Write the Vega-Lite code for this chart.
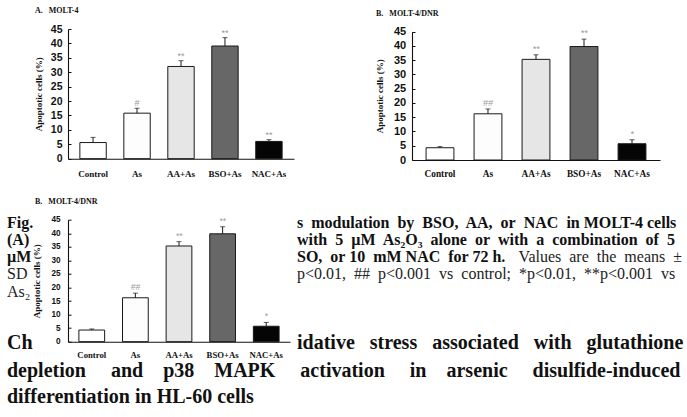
{
  "$schema": "https://vega.github.io/schema/vega-lite/v6.json",
  "autosize": {"type": "pad"},
  "padding": 0,
  "background": "white",
  "bounds": "flush",
  "columns": 2,
  "spacing": {"row": 59.7, "column": 118},
  "datasets": {
    "molt4": [
      {"treatment": "Control", "mean": 5.6, "mean_plus_sd": 7.4, "sig": ""},
      {"treatment": "As", "mean": 15.8, "mean_plus_sd": 17.5, "sig": "#"},
      {"treatment": "AA+As", "mean": 32.0, "mean_plus_sd": 34.0, "sig": "**"},
      {"treatment": "BSO+As", "mean": 39.1, "mean_plus_sd": 42.0, "sig": "**"},
      {"treatment": "NAC+As", "mean": 6.0, "mean_plus_sd": 6.6, "sig": "**"}
    ],
    "molt4_dnr": [
      {"treatment": "Control", "mean": 4.3, "mean_plus_sd": 4.7, "sig": ""},
      {"treatment": "As", "mean": 16.2, "mean_plus_sd": 17.9, "sig": "##"},
      {"treatment": "AA+As", "mean": 35.3, "mean_plus_sd": 36.9, "sig": "**"},
      {"treatment": "BSO+As", "mean": 39.8, "mean_plus_sd": 42.4, "sig": "**"},
      {"treatment": "NAC+As", "mean": 5.7, "mean_plus_sd": 7.1, "sig": "*"}
    ],
    "page_text": [
      {"role": "page", "col": -1, "row": -1, "col_end": 5, "row_end": 11, "text": ""},
      {"role": "panel", "col": 1, "row": 0, "text": "A.\u00a0\u00a0\u00a0MOLT-4"},
      {"role": "panel", "col": 3, "row": 1, "text": "B.\u00a0\u00a0\u00a0MOLT-4/DNR"},
      {"role": "panel", "col": 1, "row": 2, "text": "B.\u00a0\u00a0\u00a0MOLT-4/DNR"},
      {"role": "caption-bold", "col": 0, "row": 3, "text": "Fig."},
      {"role": "caption-bold", "col": 0, "row": 4, "text": "(A)"},
      {"role": "caption-bold", "col": 0, "row": 5, "text": "µM"},
      {"role": "caption-bold", "col": 2, "row": 3, "text": "s\u00a0 modulation\u00a0 by\u00a0 BSO,\u00a0 AA,\u00a0 or\u00a0 NAC\u00a0 in MOLT-4 cells"},
      {"role": "caption-bold", "col": 2, "row": 4, "text": "with\u00a0 5\u00a0 µM\u00a0 As₂O₃\u00a0 alone\u00a0 or\u00a0 with\u00a0 a\u00a0 combination\u00a0 of\u00a0 5"},
      {"role": "caption-bold", "col": 2, "row": 5, "text": "SO,\u00a0 or 10\u00a0 mM NAC\u00a0 for 72 h."},
      {"role": "caption", "col": 0, "row": 6, "text": "SD"},
      {"role": "caption", "col": 0, "row": 7, "text": "As₂"},
      {"role": "caption", "col": 2, "row": 6, "text": "p<0.01,\u00a0 ##\u00a0 p<0.001\u00a0 vs\u00a0 control;\u00a0 *p<0.01,\u00a0 **p<0.001\u00a0 vs"},
      {"role": "caption-end", "col": 4, "row": 5, "text": "Values\u00a0 are\u00a0 the\u00a0 means\u00a0 ±"},
      {"role": "heading", "col": 0, "row": 8, "text": "Ch"},
      {"role": "heading", "col": 2, "row": 8, "text": "idative\u00a0 \u00a0stress\u00a0 \u00a0associated\u00a0 \u00a0with\u00a0 \u00a0glutathione"},
      {"role": "heading", "col": 0, "row": 9, "text": "depletion\u00a0\u00a0\u00a0\u00a0\u00a0and\u00a0\u00a0\u00a0\u00a0p38\u00a0\u00a0\u00a0\u00a0MAPK\u00a0\u00a0\u00a0\u00a0\u00a0activation\u00a0\u00a0\u00a0\u00a0\u00a0in\u00a0\u00a0\u00a0\u00a0arsenic\u00a0\u00a0\u00a0\u00a0\u00a0disulfide-induced"},
      {"role": "heading", "col": 0, "row": 10, "text": "differentiation in HL-60 cells"}
    ]
  },
  "concat": [
    {
      "width": 226,
      "height": 129.7,
      "layer": [
        {
          "data": {"name": "page_text"},
          "encoding": {
            "x": {"field": "col", "type": "quantitative", "axis": null,
                  "scale": {"domain": [-1, 0, 1, 2, 3, 4, 5], "range": [-68, -61, -33, 229, 308, 614, 619], "zero": false, "nice": false}},
            "y": {"field": "row", "type": "quantitative", "axis": null,
                  "scale": {"domain": [-1, 0, 1, 2, 3, 7, 8, 9, 10, 11], "range": [-28.3, -15.8, -13.3, 174.7, 198.7, 267.7, 319.7, 347.7, 373.7, 388.7], "zero": false, "nice": false}}
          },
          "layer": [
            {"transform": [{"filter": "datum.role === 'page'"}],
             "mark": {"type": "rect", "fill": "white", "strokeWidth": 0},
             "encoding": {"x2": {"field": "col_end"}, "y2": {"field": "row_end"}}},
            {"transform": [{"filter": "datum.role === 'panel'"}],
             "mark": {"type": "text", "align": "left", "baseline": "alphabetic", "font": "Liberation Serif", "fontWeight": "bold", "fontSize": 8, "color": "#111"},
             "encoding": {"text": {"field": "text"}}},
            {"transform": [{"filter": "datum.role === 'caption-bold'"}],
             "mark": {"type": "text", "align": "left", "baseline": "alphabetic", "font": "Liberation Serif", "fontWeight": "bold", "fontSize": 16, "color": "#111"},
             "encoding": {"text": {"field": "text"}}},
            {"transform": [{"filter": "datum.role === 'caption'"}],
             "mark": {"type": "text", "align": "left", "baseline": "alphabetic", "font": "Liberation Serif", "fontSize": 16, "color": "#222"},
             "encoding": {"text": {"field": "text"}}},
            {"transform": [{"filter": "datum.role === 'caption-end'"}],
             "mark": {"type": "text", "align": "right", "baseline": "alphabetic", "font": "Liberation Serif", "fontSize": 16, "color": "#222"},
             "encoding": {"text": {"field": "text"}}},
            {"transform": [{"filter": "datum.role === 'heading'"}],
             "mark": {"type": "text", "align": "left", "baseline": "alphabetic", "font": "Liberation Serif", "fontWeight": "bold", "fontSize": 20, "color": "#111"},
             "encoding": {"text": {"field": "text"}}}
          ]
        },
        {
          "data": {"name": "molt4"},
          "encoding": {
            "x": {"field": "treatment", "type": "nominal", "sort": null,
                  "scale": {"domain": ["Control", "As", "AA+As", "BSO+As", "NAC+As"], "paddingInner": 0.4, "paddingOuter": 0.27},
                  "axis": {"orient": "bottom", "title": null, "zindex": 1, "ticks": false, "labelAngle": 0, "labelPadding": 11,
                           "labelFont": "Liberation Serif", "labelFontWeight": "bold", "labelFontSize": 9}},
            "y": {"field": "mean", "type": "quantitative",
                  "scale": {"domain": [0, 45], "nice": false},
                  "axis": {"orient": "left", "zindex": 1, "values": [0, 5, 10, 15, 20, 25, 30, 35, 40, 45], "tickSize": -3, "labelPadding": 9,
                           "labelFont": "Liberation Sans", "labelFontWeight": "bold", "labelFontSize": 10.5,
                           "title": "Apoptotic cells (%)", "titleFont": "Liberation Serif", "titleFontWeight": "bold", "titleFontSize": 9, "titlePadding": 7}}
          },
          "layer": [
            {"mark": {"type": "bar", "stroke": "#1a1a1a", "strokeWidth": 1},
             "encoding": {
               "color": {"field": "treatment", "type": "nominal", "legend": null,
                         "scale": {"domain": ["Control", "As", "AA+As", "BSO+As", "NAC+As"], "range": ["#ffffff", "#fdfdfd", "#e6e6e6", "#676767", "#050505"]}}
             }},
            {"mark": {"type": "rule", "color": "#1a1a1a", "strokeWidth": 1},
             "encoding": {"y2": {"field": "mean_plus_sd"}}},
            {"mark": {"type": "tick", "color": "#1a1a1a", "size": 5, "thickness": 1},
             "encoding": {"y": {"field": "mean_plus_sd", "type": "quantitative",
                  "scale": {"domain": [0, 45], "nice": false},
                  "axis": {"orient": "left", "zindex": 1, "values": [0, 5, 10, 15, 20, 25, 30, 35, 40, 45], "tickSize": -3, "labelPadding": 9,
                           "labelFont": "Liberation Sans", "labelFontWeight": "bold", "labelFontSize": 10.5,
                           "title": "Apoptotic cells (%)", "titleFont": "Liberation Serif", "titleFontWeight": "bold", "titleFontSize": 9, "titlePadding": 7}}}},
            {"mark": {"type": "text", "baseline": "alphabetic", "dy": -2, "font": "Liberation Sans", "fontSize": 9, "color": "#9a9a9a"},
             "encoding": {"text": {"field": "sig"}, "y": {"field": "mean_plus_sd", "type": "quantitative",
                  "scale": {"domain": [0, 45], "nice": false},
                  "axis": {"orient": "left", "zindex": 1, "values": [0, 5, 10, 15, 20, 25, 30, 35, 40, 45], "tickSize": -3, "labelPadding": 9,
                           "labelFont": "Liberation Sans", "labelFontWeight": "bold", "labelFontSize": 10.5,
                           "title": "Apoptotic cells (%)", "titleFont": "Liberation Serif", "titleFontWeight": "bold", "titleFontSize": 9, "titlePadding": 7}}}}
          ]
        }
      ],
      "resolve": {
        "scale": {"x": "independent", "y": "independent"},
        "axis": {"x": "independent", "y": "independent"}
      }
    },
    {
      "width": 248,
      "height": 131,
      "data": {"name": "molt4_dnr"},
      "encoding": {
        "x": {"field": "treatment", "type": "nominal", "sort": null,
              "scale": {"domain": ["Control", "As", "AA+As", "BSO+As", "NAC+As"], "paddingInner": 0.42, "paddingOuter": 0.293},
              "axis": {"orient": "bottom", "title": null, "zindex": 1, "ticks": false, "labelAngle": 0, "labelPadding": 9.4,
                       "labelFont": "Liberation Serif", "labelFontWeight": "bold", "labelFontSize": 9.3}},
        "y": {"field": "mean", "type": "quantitative",
              "scale": {"domain": [0, 45], "range": [131, 2.7], "nice": false},
              "axis": {"orient": "left", "zindex": 1, "values": [0, 5, 10, 15, 20, 25, 30, 35, 40, 45], "tickSize": -3, "labelPadding": 9.3,
                       "labelFont": "Liberation Sans", "labelFontWeight": "bold", "labelFontSize": 11,
                       "title": "Apoptotic cells (%)", "titleFont": "Liberation Serif", "titleFontWeight": "bold", "titleFontSize": 9, "titlePadding": 9}}
      },
      "layer": [
        {"mark": {"type": "bar", "stroke": "#1a1a1a", "strokeWidth": 1},
         "encoding": {
           "color": {"field": "treatment", "type": "nominal", "legend": null,
                     "scale": {"domain": ["Control", "As", "AA+As", "BSO+As", "NAC+As"], "range": ["#ffffff", "#fdfdfd", "#e6e6e6", "#676767", "#050505"]}}
         }},
        {"mark": {"type": "rule", "color": "#1a1a1a", "strokeWidth": 1},
         "encoding": {"y2": {"field": "mean_plus_sd"}}},
        {"mark": {"type": "tick", "color": "#1a1a1a", "size": 5, "thickness": 1},
         "encoding": {"y": {"field": "mean_plus_sd", "type": "quantitative",
              "scale": {"domain": [0, 45], "range": [131, 2.7], "nice": false},
              "axis": {"orient": "left", "zindex": 1, "values": [0, 5, 10, 15, 20, 25, 30, 35, 40, 45], "tickSize": -3, "labelPadding": 9.3,
                       "labelFont": "Liberation Sans", "labelFontWeight": "bold", "labelFontSize": 11,
                       "title": "Apoptotic cells (%)", "titleFont": "Liberation Serif", "titleFontWeight": "bold", "titleFontSize": 9, "titlePadding": 9}}}},
        {"mark": {"type": "text", "baseline": "alphabetic", "dy": -3, "font": "Liberation Sans", "fontSize": 9, "fontStyle": "italic", "color": "#9a9a9a"},
         "encoding": {"text": {"field": "sig"}, "y": {"field": "mean_plus_sd", "type": "quantitative",
              "scale": {"domain": [0, 45], "range": [131, 2.7], "nice": false},
              "axis": {"orient": "left", "zindex": 1, "values": [0, 5, 10, 15, 20, 25, 30, 35, 40, 45], "tickSize": -3, "labelPadding": 9.3,
                       "labelFont": "Liberation Sans", "labelFontWeight": "bold", "labelFontSize": 11,
                       "title": "Apoptotic cells (%)", "titleFont": "Liberation Serif", "titleFontWeight": "bold", "titleFontSize": 9, "titlePadding": 9}}}}
      ]
    },
    {
      "width": 222,
      "height": 122,
      "data": {"name": "molt4_dnr"},
      "encoding": {
        "x": {"field": "treatment", "type": "nominal", "sort": null,
              "scale": {"domain": ["Control", "As", "AA+As", "BSO+As", "NAC+As"], "paddingInner": 0.41, "paddingOuter": 0.25},
              "axis": {"orient": "bottom", "title": null, "zindex": 1, "ticks": false, "labelAngle": 0, "labelPadding": 8.5,
                       "labelFont": "Liberation Serif", "labelFontWeight": "bold", "labelFontSize": 8.7}},
        "y": {"field": "mean", "type": "quantitative",
              "scale": {"domain": [0, 45], "nice": false},
              "axis": {"orient": "left", "zindex": 1, "values": [0, 5, 10, 15, 20, 25, 30, 35, 40, 45], "tickSize": -3, "labelPadding": 11,
                       "labelFont": "Liberation Sans", "labelFontWeight": "bold", "labelFontSize": 8.2,
                       "title": "Apoptotic cells (%)", "titleFont": "Liberation Serif", "titleFontWeight": "bold", "titleFontSize": 9, "titlePadding": 9}}
      },
      "layer": [
        {"mark": {"type": "bar", "stroke": "#1a1a1a", "strokeWidth": 1},
         "encoding": {
           "color": {"field": "treatment", "type": "nominal", "legend": null,
                     "scale": {"domain": ["Control", "As", "AA+As", "BSO+As", "NAC+As"], "range": ["#ffffff", "#fdfdfd", "#e6e6e6", "#676767", "#050505"]}}
         }},
        {"mark": {"type": "rule", "color": "#1a1a1a", "strokeWidth": 1},
         "encoding": {"y2": {"field": "mean_plus_sd"}}},
        {"mark": {"type": "tick", "color": "#1a1a1a", "size": 5, "thickness": 1},
         "encoding": {"y": {"field": "mean_plus_sd", "type": "quantitative",
              "scale": {"domain": [0, 45], "nice": false},
              "axis": {"orient": "left", "zindex": 1, "values": [0, 5, 10, 15, 20, 25, 30, 35, 40, 45], "tickSize": -3, "labelPadding": 11,
                       "labelFont": "Liberation Sans", "labelFontWeight": "bold", "labelFontSize": 8.2,
                       "title": "Apoptotic cells (%)", "titleFont": "Liberation Serif", "titleFontWeight": "bold", "titleFontSize": 9, "titlePadding": 9}}}},
        {"mark": {"type": "text", "baseline": "alphabetic", "dy": -3, "font": "Liberation Sans", "fontSize": 8.5, "fontStyle": "italic", "color": "#9a9a9a"},
         "encoding": {"text": {"field": "sig"}, "y": {"field": "mean_plus_sd", "type": "quantitative",
              "scale": {"domain": [0, 45], "nice": false},
              "axis": {"orient": "left", "zindex": 1, "values": [0, 5, 10, 15, 20, 25, 30, 35, 40, 45], "tickSize": -3, "labelPadding": 11,
                       "labelFont": "Liberation Sans", "labelFontWeight": "bold", "labelFontSize": 8.2,
                       "title": "Apoptotic cells (%)", "titleFont": "Liberation Serif", "titleFontWeight": "bold", "titleFontSize": 9, "titlePadding": 9}}}}
      ]
    }
  ],
  "config": {
    "view": {"stroke": null},
    "axis": {"grid": false, "domainColor": "#111", "domainWidth": 1.1, "tickColor": "#111", "tickWidth": 1, "labelColor": "#111", "titleColor": "#111"}
  }
}
